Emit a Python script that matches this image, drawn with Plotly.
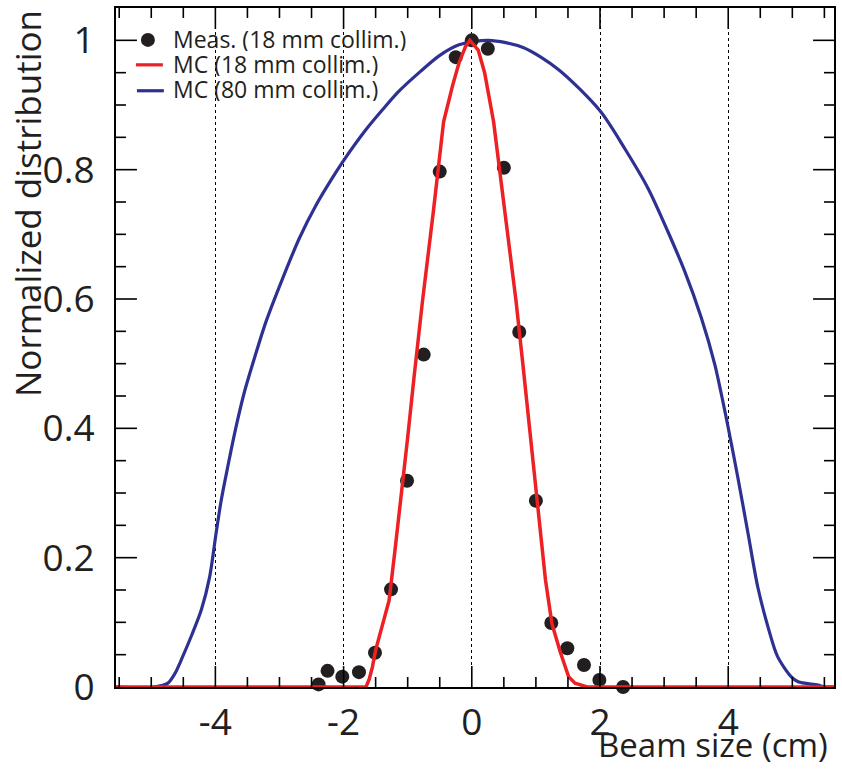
import plotly.graph_objects as go

# ---- data ----
meas_x = [-2.39, -2.25, -2.02, -1.76, -1.51, -1.26, -1.01, -0.75, -0.50, -0.25,
          0.0, 0.25, 0.50, 0.74, 1.00, 1.24, 1.49, 1.75, 1.99, 2.36]
meas_y = [0.004, 0.025, 0.016, 0.023, 0.053, 0.151, 0.319, 0.514, 0.797, 0.974,
          1.0, 0.987, 0.803, 0.549, 0.288, 0.099, 0.060, 0.034, 0.011, 0.0]

mc18_x = [-5.55, -1.65, -1.60, -1.55, -1.50, -1.40, -1.29, -1.20, -1.145, -1.00,
          -0.90, -0.77, -0.60, -0.44, -0.30, -0.20, -0.10, -0.03, 0.10, 0.20,
          0.34, 0.40, 0.50, 0.60, 0.69, 0.80, 0.90, 1.00, 1.06, 1.15,
          1.25, 1.38, 1.51, 1.61, 1.80, 5.65]
mc18_y = [0.0, 0.0, 0.012, 0.031, 0.057, 0.095, 0.134, 0.21, 0.257, 0.386,
          0.48, 0.596, 0.735, 0.874, 0.93, 0.965, 0.99, 1.0, 0.985, 0.95,
          0.874, 0.827, 0.748, 0.668, 0.597, 0.496, 0.404, 0.312, 0.257, 0.165,
          0.098, 0.054, 0.016, 0.006, 0.0, 0.0]

mc80_x = [-5.55, -4.95, -4.74, -4.63, -4.51, -4.37, -4.22, -4.09, -3.99, -3.91,
          -3.81, -3.68, -3.55, -3.42, -3.21, -2.95, -2.69, -2.43, -2.17, -2.00,
          -1.65, -1.39, -1.14, -0.80, -0.51, -0.20, 0.26, 0.80, 1.35, 2.00,
          2.39, 2.75, 3.06, 3.32, 3.58, 3.79, 3.92, 4.00, 4.15, 4.31,
          4.46, 4.62, 4.77, 4.98, 5.09, 5.40, 5.50, 5.65]
mc80_y = [0.0, 0.0, 0.006, 0.021, 0.047, 0.080, 0.119, 0.170, 0.237, 0.288,
          0.339, 0.401, 0.455, 0.499, 0.565, 0.632, 0.694, 0.745, 0.788, 0.814,
          0.862, 0.893, 0.921, 0.952, 0.976, 0.993, 1.0, 0.989, 0.955, 0.891,
          0.832, 0.771, 0.704, 0.643, 0.571, 0.499, 0.44, 0.401, 0.324, 0.237,
          0.155, 0.093, 0.047, 0.016, 0.008, 0.003, 0.0, 0.0]

x_range = [-5.55, 5.65]
y_range = [0, 1.05]
x_tickvals = [-4, -2, 0, 2, 4]
x_ticktext = ["-4", "-2", "0", "2", "4"]
y_tickvals = [0, 0.2, 0.4, 0.6, 0.8, 1.0]
y_ticktext = ["0", "0.2", "0.4", "0.6", "0.8", "1"]
x_major_step, x_minor_step = 2, 0.5
y_major_step, y_minor_step = 0.2, 0.05

legend_labels = ["Meas. (18 mm collim.)", "MC (18 mm collim.)", "MC (80 mm collim.)"]
x_title = "Beam size (cm)"
y_title = "Normalized distribution"

# ---- style ----
RED = "#ed2024"
BLUE = "#2e3192"
INK = "#231f20"
FONT = "Open Sans"
MAJOR_LEN, MINOR_LEN = 21, 10

W, H = 842, 774
ML, MR, MT, MB = 116, 6, 6, 87
PW, PH = W - ML - MR, H - MT - MB

# tick marks as line segments in axis units, derived from the tick steps
x_unit_per_px = (x_range[1] - x_range[0]) / PW
y_unit_per_px = (y_range[1] - y_range[0]) / PH
tick_x, tick_y = [], []
start = int(x_range[0] / x_minor_step) - 1
stop = int(x_range[1] / x_minor_step) + 1
for k in range(start, stop + 1):
    v = round(k * x_minor_step, 6)
    if not (x_range[0] < v < x_range[1]):
        continue
    is_major = abs(v / x_major_step - round(v / x_major_step)) < 1e-6
    L = (MAJOR_LEN if is_major else MINOR_LEN) * y_unit_per_px
    tick_x += [v, v, None, v, v, None]
    tick_y += [y_range[0], y_range[0] + L, None, y_range[1], y_range[1] - L, None]
k = 1
while True:
    v = round(k * y_minor_step, 6)
    if v >= y_range[1]:
        break
    is_major = abs(v / y_major_step - round(v / y_major_step)) < 1e-6
    L = (MAJOR_LEN if is_major else MINOR_LEN) * x_unit_per_px
    tick_x += [x_range[0], x_range[0] + L, None, x_range[1], x_range[1] - L, None]
    tick_y += [v, v, None, v, v, None]
    k += 1

fig = go.Figure()
fig.add_trace(go.Scatter(x=mc80_x, y=mc80_y, mode="lines",
                         line=dict(color=BLUE, width=3.2, shape="spline", smoothing=0.8),
                         name=legend_labels[2], showlegend=False, cliponaxis=False))
fig.add_trace(go.Scatter(x=meas_x, y=meas_y, mode="markers",
                         marker=dict(color=INK, size=14, line=dict(width=0)),
                         name=legend_labels[0], showlegend=False, cliponaxis=False))
fig.add_trace(go.Scatter(x=mc18_x, y=mc18_y, mode="lines",
                         line=dict(color=RED, width=3.5), name=legend_labels[1],
                         showlegend=False, cliponaxis=False))
fig.add_trace(go.Scatter(x=tick_x, y=tick_y, mode="lines", connectgaps=False,
                         line=dict(color="black", width=1.6), showlegend=False,
                         hoverinfo="skip", name="ticks"))

tickfont = dict(family=FONT, size=37, color=INK)
fig.update_layout(
    xaxis=dict(range=x_range, tickmode="array", tickvals=x_tickvals,
               ticktext=x_ticktext, ticks="", showline=True, linecolor="black",
               linewidth=2, mirror=True, zeroline=False, showgrid=True,
               gridcolor="black", gridwidth=1, griddash="dot",
               tickfont=tickfont, ticklabelstandoff=2),
    yaxis=dict(range=y_range, tickmode="array", tickvals=y_tickvals,
               ticktext=y_ticktext, ticks="", showline=True, linecolor="black",
               linewidth=2, mirror=True, zeroline=False, showgrid=False,
               tickfont=tickfont, ticklabelstandoff=12),
)

def px2paper(px, py):
    return (px - ML) / PW, (H - MB - py) / PH

annotations = []
annotations.append(dict(text=x_title, xref="paper", yref="paper", x=1, y=0,
                        xanchor="right", yanchor="top", xshift=-4, yshift=-36,
                        height=38, valign="middle",
                        showarrow=False, font=dict(family=FONT, size=33, color=INK)))
annotations.append(dict(text=y_title, xref="paper", yref="paper", x=0, y=1,
                        xanchor="right", yanchor="top", xshift=-63, yshift=0,
                        textangle=-90, showarrow=False,
                        font=dict(family=FONT, size=35, color=INK)))
legend_rows_y = [37, 62, 87]
for lab, ry in zip(legend_labels, legend_rows_y):
    ax, ay = px2paper(171, ry)
    annotations.append(dict(text=lab, xref="paper", yref="paper", x=ax, y=ay,
                            xanchor="left", yanchor="middle", showarrow=False,
                            height=24, valign="middle",
                            font=dict(family=FONT, size=23, color=INK)))

shapes = []
cx0, cy0 = px2paper(141, 31)
cx1, cy1 = px2paper(155, 45)
shapes.append(dict(type="circle", xref="paper", yref="paper", x0=cx0, y0=cy0,
                   x1=cx1, y1=cy1, fillcolor=INK, line=dict(width=0)))
for (x0p, x1p, yp), col in zip([(136, 163, 63), (137, 164, 89)], [RED, BLUE]):
    a0, b0 = px2paper(x0p, yp)
    a1, _ = px2paper(x1p, yp)
    shapes.append(dict(type="line", xref="paper", yref="paper", x0=a0, y0=b0,
                       x1=a1, y1=b0, line=dict(color=col, width=3.2)))

fig.update_layout(width=W, height=H, margin=dict(l=ML, r=MR, t=MT, b=MB),
                  paper_bgcolor="white", plot_bgcolor="white",
                  annotations=annotations, shapes=shapes, showlegend=False,
                  font=dict(family=FONT, color=INK))

fig.write_html("out.html")
